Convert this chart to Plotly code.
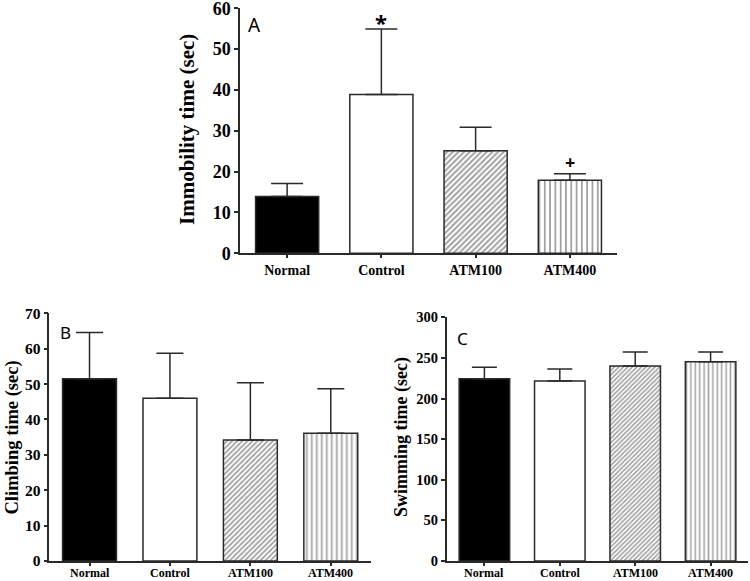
import plotly.graph_objects as go

groups = ["Normal", "Control", "ATM100", "ATM400"]

immobility_mean = [13.9, 38.9, 25.1, 17.9]
immobility_err = [3.2, 16.0, 5.8, 1.6]

climbing_mean = [51.5, 46.0, 34.2, 36.1]
climbing_err = [13.1, 12.7, 16.2, 12.6]

swimming_mean = [224.4, 221.6, 240.0, 245.4]
swimming_err = [14.0, 14.8, 17.3, 11.9]

bar_colors = ["black", "white", "white", "white"]
pattern_shapes = ["", "", "/", "|"]

LINE = "#2a2a2a"
SERIF = "Liberation Serif"
SANS = "Noto Sans"

fig = go.Figure()


def add_panel(xa, ya, means, errs, cap, psize):
    fig.add_trace(go.Bar(
        x=groups, y=means, xaxis=xa, yaxis=ya, width=0.67,
        marker=dict(color=bar_colors,
                    line=dict(color=LINE, width=1.5),
                    pattern=dict(shape=pattern_shapes, fgcolor="#111111",
                                 bgcolor="white", size=psize,
                                 solidity=[0.3, 0.3, 0.5, 0.34])),
        error_y=dict(type="data", symmetric=False, array=errs,
                     arrayminus=[0] * len(errs), color=LINE,
                     thickness=1.5, width=cap),
        showlegend=False,
    ))


add_panel("x", "y", immobility_mean, immobility_err, 16, [4, 4, 4, 5.3])
add_panel("x2", "y2", climbing_mean, climbing_err, 13.5, [3.6, 3.6, 3.6, 5])
add_panel("x3", "y3", swimming_mean, swimming_err, 12.5, [3.2, 3.2, 3.2, 4.4])

W, H = 750, 581


def px_x(p):
    return p / W


def px_y(p):
    return (H - p) / H


def xaxis(dom, anchor, size, show=True):
    return dict(domain=dom, anchor=anchor, range=[-0.5, 3.5],
                showline=True, linecolor=LINE, linewidth=1.5,
                ticks="outside", ticklen=3, tickcolor=LINE, tickwidth=1.5,
                showgrid=False, zeroline=False, automargin=False,
                showticklabels=show, ticklabeloverflow="allow",
                tickfont=dict(family=SERIF, size=size, color="black",
                              weight="bold"))


def yaxis(dom, anchor, rng, dtick, size):
    return dict(domain=dom, anchor=anchor, range=rng, dtick=dtick,
                showline=True, linecolor=LINE, linewidth=1.5,
                ticks="outside", ticklen=4, tickcolor=LINE, tickwidth=1.5,
                showgrid=False, zeroline=False, automargin=False,
                ticklabeloverflow="allow",
                tickfont=dict(family=SERIF, size=size, color="black",
                              weight="bold"))


fig.update_layout(
    width=W, height=H,
    margin=dict(l=0, r=0, t=0, b=0),
    paper_bgcolor="white", plot_bgcolor="white",
    bargap=0.33,
    xaxis=xaxis([px_x(240), px_x(617)], "y", 14),
    yaxis=yaxis([px_y(253.3), px_y(8.3)], "x", [0, 60], 10, 18),
    xaxis2=xaxis([px_x(49.3), px_x(371)], "y2", 12, show=False),
    yaxis2=yaxis([px_y(561), px_y(313.3)], "x2", [0, 70], 10, 15.5),
    xaxis3=xaxis([px_x(446.7), px_x(748.3)], "y3", 12, show=False),
    yaxis3=yaxis([px_y(561), px_y(317.3)], "x3", [0, 300], 50, 14.5),
)

# category labels under panels B and C (kept just inside the page edge)
for xref in ("x2", "x3"):
    for g in groups:
        fig.add_annotation(text=g, x=g, xref=xref, y=px_y(572.5),
                           yref="paper", showarrow=False,
                           xanchor="center", yanchor="middle", borderpad=0,
                           font=dict(family=SERIF, size=12, color="black",
                                     weight="bold"))

annotations = [
    dict(text="Immobility time (sec)", x=px_x(187), y=px_y(130),
         font=dict(family=SERIF, size=21, color="black", weight="bold")),
    dict(text="Climbing time (sec)", x=px_x(12), y=px_y(437.5),
         font=dict(family=SERIF, size=18.5, color="black", weight="bold")),
    dict(text="Swimming time (sec)", x=px_x(401.5), y=px_y(437.5),
         font=dict(family=SERIF, size=18, color="black", weight="bold")),
]
for a in annotations:
    a.update(xref="paper", yref="paper", textangle=-90, showarrow=False,
             xanchor="center", yanchor="middle")
    fig.add_annotation(**a)

for letter, lx, ly, sz in [("A", 254, 25, 19), ("B", 65, 332.7, 17),
                           ("C", 462, 338, 17)]:
    fig.add_annotation(text=letter, x=px_x(lx), y=px_y(ly), xref="paper",
                       yref="paper", showarrow=False, xanchor="center",
                       yanchor="middle",
                       font=dict(family=SANS, size=sz, color="black"))

fig.add_annotation(text="<b>*</b>", x="Control", y=56.7, xref="x", yref="y",
                   showarrow=False, yanchor="middle",
                   font=dict(family=SANS, size=22, color="black"))
fig.add_annotation(text="<b>+</b>", x="ATM400", y=22.3, xref="x", yref="y",
                   showarrow=False, yanchor="middle",
                   font=dict(family=SANS, size=18, color="black"))

fig.write_html("out.html",
               config={"displayModeBar": False},
               post_script="document.body.style.margin='0';"
                           "document.body.style.overflow='hidden';")
